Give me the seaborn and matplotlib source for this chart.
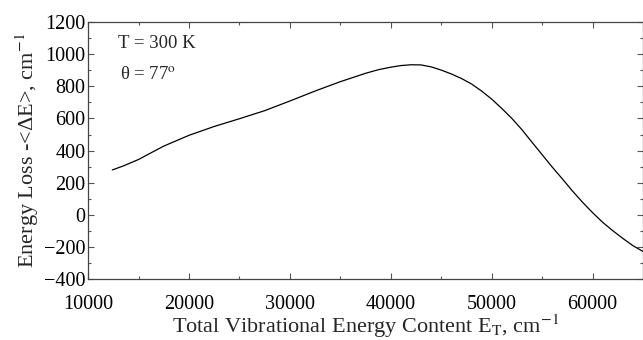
import matplotlib
matplotlib.use("Agg")
import matplotlib.pyplot as plt
import seaborn as sns
import pandas as pd
from matplotlib.ticker import MultipleLocator

energy_content = [12400, 13500, 15000, 16500, 17500, 20000, 22500, 25000, 27500,
                  30000, 32500, 35000, 37500, 38750, 40000, 41000, 42000, 43000,
                  44000, 45000, 46000, 47000, 48000, 49000, 50000, 51000, 52000,
                  53000, 54000, 55000, 56000, 57000, 58000, 59000, 60000, 61000,
                  62000, 63000, 64000, 65000]
energy_loss = [280, 305, 345, 395, 428, 495, 550, 598, 648,
               708, 770, 828, 880, 902, 918, 928, 933, 932,
               920, 900, 876, 848, 814, 770, 720, 662, 600,
               530, 452, 375, 298, 225, 150, 80, 15, -45,
               -97, -145, -190, -226]

sns.set_theme(style="ticks")
plt.rcParams['font.family'] = ['Liberation Serif', 'DejaVu Serif']
plt.rcParams['mathtext.fontset'] = 'stix'

df = pd.DataFrame({"x": energy_content, "y": energy_loss})

fig = plt.figure(figsize=(6.43, 3.40), dpi=100)
ax = fig.add_axes([0.137, 0.178, 0.863, 0.758])
sns.lineplot(data=df, x="x", y="y", ax=ax, color="black", linewidth=0.9)

ax.set_xlim(10000, 65000)
ax.set_ylim(-400, 1200)
ax.xaxis.set_major_locator(MultipleLocator(10000))
ax.xaxis.set_minor_locator(MultipleLocator(5000))
ax.yaxis.set_major_locator(MultipleLocator(200))
ax.yaxis.set_minor_locator(MultipleLocator(100))
ax.tick_params(which="both", direction="in", top=True, right=True, width=0.8,
               colors="#555555", labelcolor="black", labelsize=14.5)
ax.tick_params(axis="y", pad=2)
ax.tick_params(axis="x", pad=11)
ax.tick_params(which="major", length=4.5)
ax.tick_params(which="minor", length=2.5)
for s in ax.spines.values():
    s.set_linewidth(0.9)
    s.set_color("#444444")

ax.set_xlabel("Total Vibrational Energy Content E$_\\mathrm{T}$, cm$^{-1}$", fontsize=16, labelpad=-1)
ax.set_ylabel("Energy Loss -<ΔE>, cm$^{-1}$", fontsize=16, labelpad=2)

ax.text(0.054, 0.897, "T = 300 K", transform=ax.transAxes, fontsize=13.5, va="baseline", ha="left")
ax.text(0.058, 0.774, "θ = 77$^\\mathrm{o}$", transform=ax.transAxes, fontsize=13.5, va="baseline", ha="left")

fig.savefig("out.png", dpi=100)
